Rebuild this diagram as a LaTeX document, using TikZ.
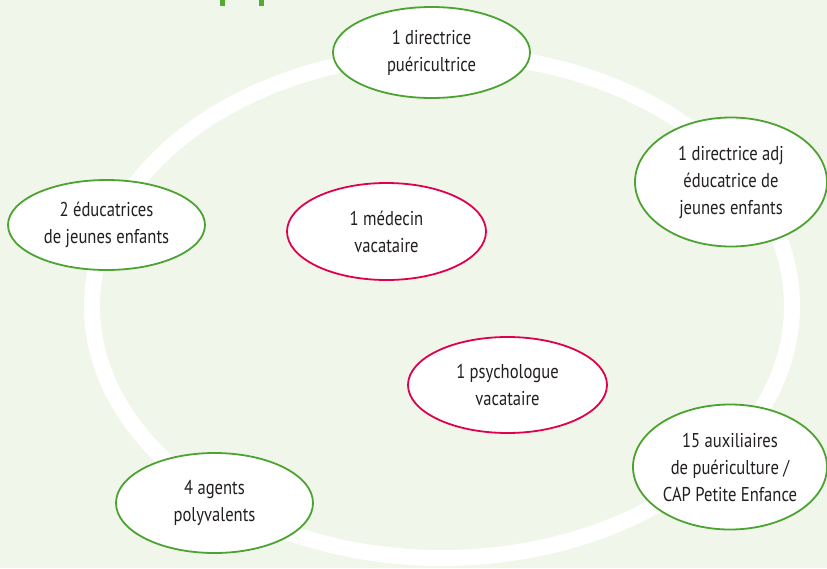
\documentclass[tikz,border=0pt]{standalone}
\usepackage{fontspec}
\setmainfont{PT Sans}[FakeStretch=0.83]
\usetikzlibrary{shapes.geometric}
\definecolor{bg}{RGB}{240,246,234}
\definecolor{gborder}{RGB}{76,163,50}
\definecolor{rborder}{RGB}{224,0,77}
\definecolor{ink}{RGB}{35,31,32}
\definecolor{titlegreen}{RGB}{82,172,50}
\tikzset{
  bubble/.style={ellipse, fill=white, line width=1.8pt, inner sep=0pt, align=center,
    text=ink, font=\fontsize{20}{27}\selectfont},
  gbub/.style={bubble, draw=gborder},
  rbub/.style={bubble, draw=rborder},
  ring/.style={draw=white, line width=16pt}
}
\begin{document}
\begin{tikzpicture}[x=1pt,y=-1pt]
\fill[bg] (0,0) rectangle (827,568);
\useasboundingbox (0,0) rectangle (827,568);
% cropped title fragments
\fill[titlegreen] (220,0) rectangle (225,6);
\fill[titlegreen] (259,0) rectangle (264,6);
% white ring
\draw[ring] (442,306) ellipse [x radius=350, y radius=252];
% bubbles
\node[gbub, minimum width=197pt, minimum height=91pt] (dir) at (431.5,52.5) {1 directrice\\puéricultrice};
\node[gbub, minimum width=192pt, minimum height=129pt] (adj) at (731,182) {1 directrice adj\\éducatrice de\\jeunes enfants};
\node[gbub, minimum width=197pt, minimum height=90pt] (edu) at (106.5,225) {2 éducatrices\\de jeunes enfants};
\node[rbub, minimum width=199pt, minimum height=97pt] (med) at (386.5,231.5) {1 médecin\\vacataire};
\node[rbub, minimum width=199pt, minimum height=96pt] (psy) at (507.5,385) {1 psychologue\\vacataire};
\node[gbub, minimum width=194pt, minimum height=125pt] (aux) at (730,467) {15 auxiliaires\\de puériculture /\\CAP Petite Enfance};
\node[gbub, minimum width=197pt, minimum height=100pt] (agt) at (214.5,503) {4 agents\\polyvalents};
\end{tikzpicture}
\end{document}
